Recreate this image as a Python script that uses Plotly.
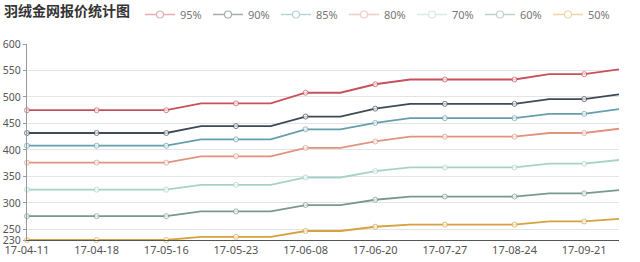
import plotly.graph_objects as go

dates = ["17-04-11", "17-04-14", "17-04-18", "17-05-09", "17-05-16", "17-05-19",
         "17-05-23", "17-05-31", "17-06-08", "17-06-15", "17-06-20", "17-07-06",
         "17-07-27", "17-08-10", "17-08-24", "17-09-07", "17-09-21", "17-10-12"]
tick_labels = dates[::2]

s95 = [475, 475, 475, 475, 475, 488, 488, 488, 508, 508, 524, 533, 533, 533, 533, 543, 543, 552]
s90 = [432, 432, 432, 432, 432, 445, 445, 445, 463, 463, 478, 487, 487, 487, 487, 496, 496, 505]
s85 = [408, 408, 408, 408, 408, 420, 420, 420, 439, 439, 451, 460, 460, 460, 460, 468, 468, 477]
s80 = [376, 376, 376, 376, 376, 388, 388, 388, 404, 404, 416, 425, 425, 425, 425, 432, 432, 440]
s70 = [325, 325, 325, 325, 325, 334, 334, 334, 348, 348, 360, 367, 367, 367, 367, 374, 374, 381]
s60 = [275, 275, 275, 275, 275, 284, 284, 284, 296, 296, 306, 312, 312, 312, 312, 318, 318, 324]
s50 = [230, 230, 230, 230, 230, 236, 236, 236, 247, 247, 255, 259, 259, 259, 259, 265, 265, 270]

series_names = ["95%", "90%", "85%", "80%", "70%", "60%", "50%"]
series_values = [s95, s90, s85, s80, s70, s60, s50]
colors = ["#c8505a", "#3e4a54", "#659fac", "#e0937f", "#a6d3c7", "#77998f", "#d6a13e"]
y_ticks = [230, 250, 300, 350, 400, 450, 500, 550, 600]

fig = go.Figure()
marker_sizes = [5 if i % 2 == 0 else 0 for i in range(len(dates))]
for name, vals, col in zip(series_names, series_values, colors):
    fig.add_trace(go.Scatter(
        x=dates, y=vals, mode="lines+markers", name=name, showlegend=False,
        line=dict(color=col, width=1.8),
        marker=dict(size=marker_sizes, color="white", line=dict(color=col, width=1)),
        cliponaxis=False,
    ))
    fig.add_trace(go.Scatter(
        x=[None], y=[None], mode="lines+markers", name=name, showlegend=True,
        line=dict(color=col, width=1.5), opacity=0.45,
        marker=dict(size=7, color="white", line=dict(color=col, width=1.2)),
    ))

fig.update_layout(
    width=640, height=262,
    margin=dict(l=27, r=21, t=44, b=22, autoexpand=False),
    paper_bgcolor="white", plot_bgcolor="white",
    font=dict(family="Noto Sans, Noto Sans CJK SC", size=11, color="#666"),
    title=dict(text="<b>羽绒金网报价统计图</b>", x=4 / 640, xanchor="left",
               y=1 - 11 / 262, yanchor="middle", xref="container", yref="container",
               font=dict(family="Noto Sans CJK SC", size=14, color="#333")),
    legend=dict(orientation="h", x=140 / 640, xanchor="left", y=1.0, yanchor="top",
                xref="container", yref="container",
                font=dict(size=11, color="#777"), itemwidth=30,
                entrywidth=23, entrywidthmode="pixels", bgcolor="rgba(0,0,0,0)",
                tracegroupgap=0),
    xaxis=dict(type="category", range=[0, len(dates) - 1], showgrid=False,
               tickmode="array", tickvals=tick_labels, ticktext=tick_labels,
               showline=True, linecolor="#555", linewidth=1, ticks="",
               tickfont=dict(size=11, color="#555"), zeroline=False, fixedrange=True,
               automargin=False),
    yaxis=dict(range=[230, 600], tickmode="array", tickvals=y_ticks,
               showgrid=True, gridcolor="#e4e4e4", gridwidth=1,
               showline=True, linecolor="#999", linewidth=1, ticks="outside",
               ticklen=3, tickcolor="#999", tickfont=dict(size=10.5, color="#555"),
               zeroline=False, automargin=False),
    showlegend=True,
)

fig.write_html("out.html")
